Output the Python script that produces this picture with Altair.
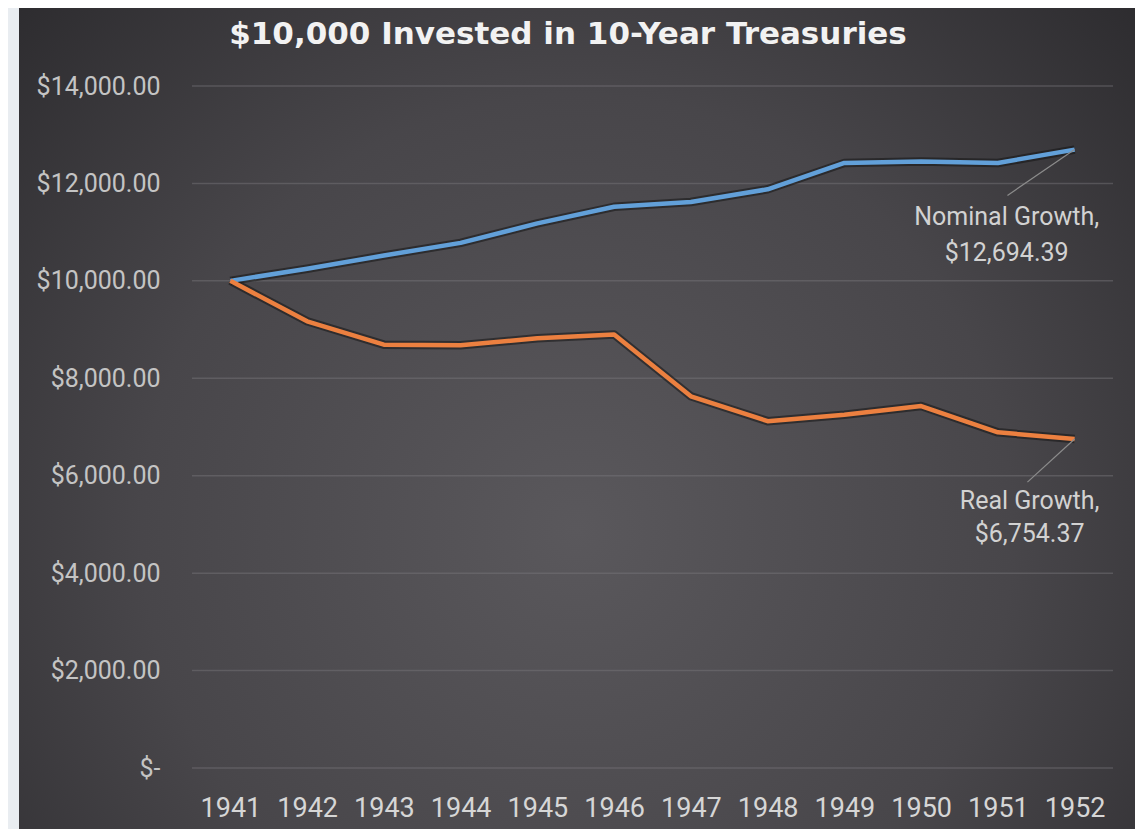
import altair as alt
import pandas as pd

# ---- data ----
years = [1941, 1942, 1943, 1944, 1945, 1946, 1947, 1948, 1949, 1950, 1951, 1952]
nominal_growth = [10000, 10250, 10520, 10780, 11180, 11520, 11620, 11880, 12420, 12450, 12420, 12694.39]
real_growth = [10000, 9170, 8690, 8680, 8820, 8900, 7630, 7120, 7250, 7430, 6890, 6754.37]
series_names = ["Nominal Growth", "Real Growth"]
y_ticks = [0, 2000, 4000, 6000, 8000, 10000, 12000, 14000]
title_text = "$10,000 Invested in 10-Year Treasuries"

rows = []
for name, vals in zip(series_names, [nominal_growth, real_growth]):
    for yr, v in zip(years, vals):
        rows.append({"year": yr, "value": v, "series": name})
df = pd.DataFrame(rows)
grid_df = pd.DataFrame({"value": y_ticks})

W, H = 921, 682
BLUE, ORANGE = "#62a0d9", "#ec8040"

xscale = alt.Scale(domain=[years[0] - 0.5, years[-1] + 0.5], nice=False, zero=False)
yscale = alt.Scale(domain=[y_ticks[0], y_ticks[-1]], nice=False)

x_axis = alt.Axis(values=years, format="d", grid=False, domain=False, ticks=False,
                  labelFont="Roboto", labelFontSize=27, labelColor="#d6d6d6",
                  labelPadding=27, title=None, zindex=1, labelFlush=False)
y_axis = alt.Axis(values=y_ticks, grid=False, domain=False, ticks=False,
                  labelFont="Roboto", labelFontSize=25, labelColor="#c4c4c4",
                  labelPadding=32, title=None, zindex=1,
                  labelExpr="datum.value == 0 ? '$-' : '$' + format(datum.value, ',.2f')")

X = alt.X("year:Q", scale=xscale, axis=x_axis)
Y = alt.Y("value:Q", scale=yscale, axis=y_axis)

one = pd.DataFrame({"t": [title_text]})

gradient = {
    "gradient": "radial",
    "x1": 0.5, "y1": 0.6, "r1": 0,
    "x2": 0.5, "y2": 0.6, "r2": 0.78,
    "stops": [
        {"offset": 0, "color": "#5a585c"},
        {"offset": 0.5, "color": "#48464a"},
        {"offset": 1, "color": "#252427"},
    ],
}

background = alt.Chart(one).mark_rect(fill=gradient).encode(
    x=alt.value(-173), x2=alt.value(W + 22), y=alt.value(-78), y2=alt.value(H + 61)
)

grid = alt.Chart(grid_df).mark_rule(stroke="#7a787c", strokeOpacity=0.45, strokeWidth=1.5).encode(y=Y)

base = alt.Chart(df)

shadow = base.mark_line(strokeWidth=8.5, color="#141414", opacity=0.55, strokeJoin="round").encode(
    x=X, y=Y, detail="series:N"
)
lines = base.mark_line(strokeWidth=4.5, strokeJoin="round").encode(
    x=X, y=Y,
    color=alt.Color("series:N", scale=alt.Scale(domain=series_names, range=[BLUE, ORANGE]), legend=None),
)

def annotation(name, lead_dx_years, lead_dy_value, dx, dy, line_h):
    last = base.transform_filter(
        (alt.datum.series == name) & (alt.datum.year == years[-1])
    )
    leader = last.transform_calculate(
        x2=f"datum.year - {lead_dx_years}", y2=f"datum.value - {lead_dy_value}"
    ).mark_rule(stroke="#8c8c8c", strokeWidth=1.2).encode(
        x=X, y=Y, x2="x2:Q", y2="y2:Q"
    )
    label = last.transform_calculate(
        label="datum.series + ',\\n$' + format(datum.value, ',.2f')"
    ).mark_text(
        font="Roboto", fontSize=25, color="#d2d2d2", align="center",
        baseline="alphabetic", lineBreak="\n", lineHeight=line_h, dx=dx, dy=dy
    ).encode(x=X, y=Y, text="label:N")
    return leader + label

nom_ann = annotation("Nominal Growth", 0.875, 940, -68, 75, 36)
real_ann = annotation("Real Growth", 0.615, 887, -45, 70, 33)

title = alt.Chart(one).mark_text(
    font="DejaVu Sans", fontSize=31, fontWeight="bold", color="#f2f2f2",
    align="center", baseline="alphabetic"
).encode(x=alt.value(376), y=alt.value(-42), text="t:N")

chart = alt.layer(background, grid, shadow, lines, nom_ann, real_ann, title).properties(
    width=W, height=H,
    padding={"left": 184, "top": 78, "right": 22, "bottom": 61},
    autosize=alt.AutoSizeParams(type="none"),
    background="#e9edf1",
).configure_view(stroke=None)

chart.save("out.html", embed_options={"renderer": "svg", "actions": False})
